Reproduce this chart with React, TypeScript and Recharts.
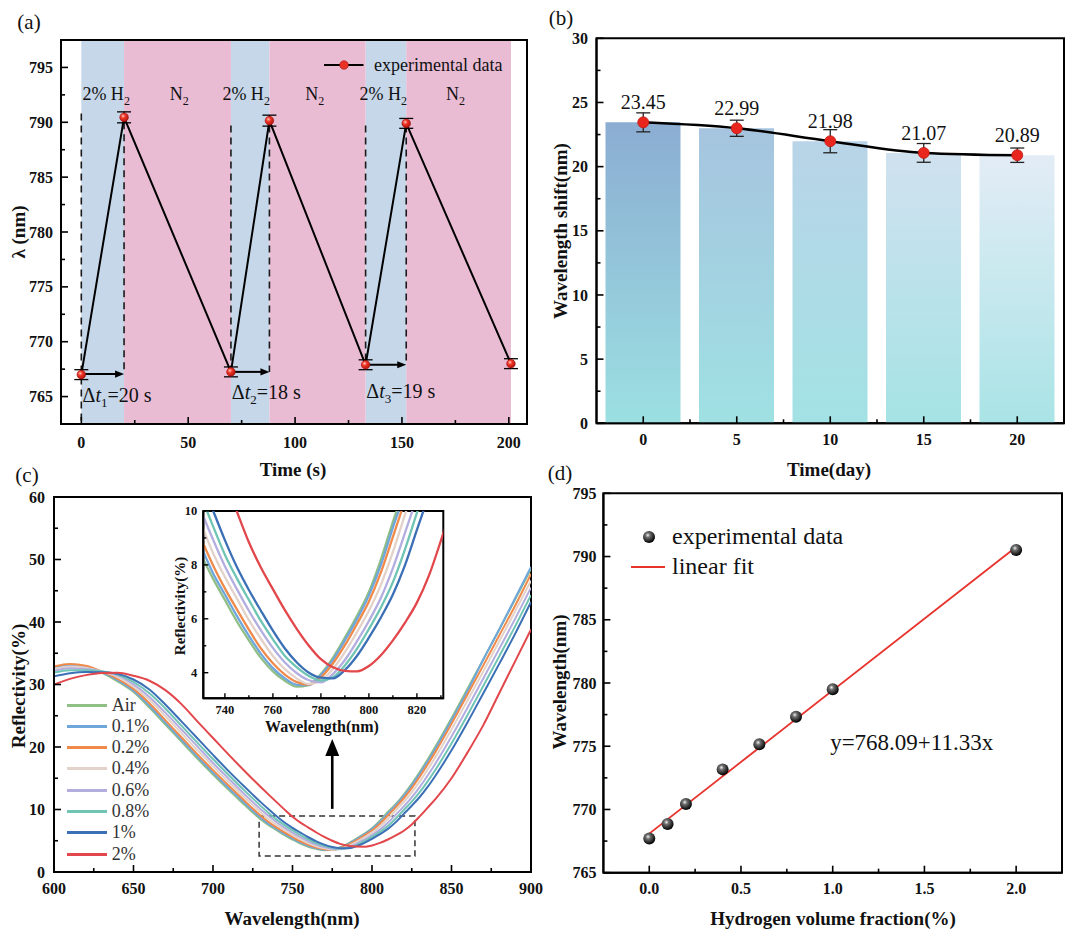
import React from 'react';
import {
  ComposedChart, LineChart, Line, Bar, Cell, XAxis, YAxis, ReferenceArea, ReferenceLine,
  ReferenceDot, ErrorBar, LabelList, Scatter, Legend,
} from 'recharts';

const FONT = "'Liberation Serif', 'Times New Roman', Times, serif";
const INK = '#111111';

/* ---------------- (a) data ---------------- */
const aTime = [0, 20, 70, 88, 133, 152, 201];
const aLambda = [767.0, 790.45, 767.25, 790.15, 767.9, 789.9, 768.0];
const aErr = [0.45, 0.5, 0.45, 0.5, 0.45, 0.45, 0.45];
const aH2Start = [0, 70, 133];
const aH2End = [20, 88, 152];
const aN2End = [70, 133, 201];
const aDashX = [0, 20, 70, 88, 133, 152];
const aDashTop = [790.8, 790.0, 789.7, 789.7, 789.7, 789.7];
const aDashBottom = [762.5, 767.05, 767.25, 767.25, 767.9, 767.9];
const aArrowY = [767.05, 767.25, 767.9];
const aDeltaSub = ['1', '2', '3'];
const aDeltaVal = ['20', '18', '19'];
const aDeltaX = [0.6, 70.4, 133.3];
const aDeltaY = [765.1, 765.4, 765.55];
const aH2X = [0.5, 66, 130.2];
const aN2X = [41.4, 104.8, 170.6];
const aGasY = 792.6;
const aXDomain = [-9.5, 208.5];
const aYDomain = [762.5, 797.5];
const aXTicks = [0, 25, 50, 75, 100, 125, 150, 175, 200];
const aXMajor = [0, 50, 100, 150, 200];
const aYTicks = [765, 767.5, 770, 772.5, 775, 777.5, 780, 782.5, 785, 787.5, 790, 792.5, 795];
const aYMajor = [765, 770, 775, 780, 785, 790, 795];

/* ---------------- (b) data ---------------- */
const bDays = [0, 5, 10, 15, 20];
const bShift = [23.45, 22.99, 21.98, 21.07, 20.89];
const bErr = [0.74, 0.63, 0.9, 0.73, 0.56];
const bYTicks = [0, 2.5, 5, 7.5, 10, 12.5, 15, 17.5, 20, 22.5, 25, 27.5, 30];
const bYMajor = [0, 5, 10, 15, 20, 25, 30];
const bTopColors = ['#8badd2', '#a6c4df', '#b9d4e8', '#d0e1ef', '#e3ecf6'];
const bBottomColors = ['#9ce0e2', '#9fe1e3', '#a2e2e4', '#a5e3e5', '#a9e4e6'];

/* ---------------- (c) data ---------------- */
const cWl = [600, 610, 620, 630, 640, 650, 660, 670, 680, 690, 700, 710, 720, 725, 730, 735, 740, 745, 750, 755,
  760, 765, 770, 775, 780, 785, 790, 795, 800, 805, 810, 815, 820, 825, 830, 835, 840, 850, 860, 870, 880, 890, 900];
const cAir = [32.8, 33.2, 32.9, 31.9, 30.5, 28.8, 26.3, 23.6, 20.9, 18.2, 15.6, 13.1, 10.7, 9.5, 8.4, 7.5, 6.7, 5.9, 5.2, 4.55,
  4.05, 3.7, 3.48, 3.55, 3.95, 4.55, 5.3, 6.1, 7.0, 8.2, 9.6, 10.9, 12.4, 14.1, 16.0, 18.0, 20.1, 24.6, 29.3, 34.0, 38.8, 43.6, 48.5];
const cP01 = [32.6, 33.1, 32.9, 32.0, 30.7, 29.0, 26.6, 23.9, 21.2, 18.5, 15.9, 13.4, 11.0, 9.8, 8.7, 7.7, 6.9, 6.1, 5.37, 4.7,
  4.17, 3.79, 3.55, 3.54, 3.91, 4.47, 5.2, 5.98, 6.87, 8.0, 9.38, 10.69, 12.16, 13.83, 15.7, 17.68, 19.76, 24.24, 28.92, 34.0, 38.8, 43.8, 48.8];
const cP02 = [32.9, 33.3, 33.0, 32.1, 30.9, 29.3, 27.0, 24.3, 21.6, 18.9, 16.3, 13.8, 11.35, 10.15, 9.0, 8.0, 7.13, 6.35, 5.6, 4.9,
  4.35, 3.93, 3.65, 3.56, 3.83, 4.34, 5.02, 5.8, 6.64, 7.72, 9.04, 10.38, 11.8, 13.42, 15.24, 17.2, 19.26, 23.7, 28.36, 33.06, 37.84, 42.6, 47.7];
const cP04 = [32.5, 32.9, 32.7, 32.1, 31.2, 29.65, 27.55, 24.95, 22.25, 19.55, 16.9, 14.35, 11.9, 10.7, 9.55, 8.45, 7.55, 6.75, 5.95, 5.26,
  4.62, 4.13, 3.78, 3.58, 3.71, 4.14, 4.76, 5.5, 6.3, 7.26, 8.48, 9.86, 11.2, 12.74, 14.48, 16.4, 18.42, 22.8, 27.42, 32.1, 36.9, 41.7, 46.6];
const cP06 = [32.2, 32.6, 32.5, 32.1, 31.45, 30.02, 28.0, 25.5, 22.85, 20.15, 17.45, 14.9, 12.4, 11.2, 10.03, 8.95, 7.95, 7.1, 6.3, 5.57,
  4.92, 4.38, 3.98, 3.72, 3.64, 3.95, 4.47, 5.16, 5.92, 6.78, 7.88, 9.18, 10.51, 11.95, 13.59, 15.43, 17.4, 21.68, 26.25, 30.95, 35.7, 40.5, 45.5];
const cP08 = [31.9, 32.3, 32.3, 32.1, 31.6, 30.4, 28.6, 26.17, 23.45, 20.75, 18.07, 15.48, 12.98, 11.78, 10.58, 9.45, 8.38, 7.5, 6.7, 5.92,
  5.24, 4.62, 4.2, 3.88, 3.71, 3.83, 4.27, 4.88, 5.62, 6.42, 7.36, 8.57, 9.93, 11.25, 12.77, 14.5, 16.4, 20.55, 25.07, 29.77, 34.5, 39.3, 44.3];
const cP1 = [31.3, 31.8, 32.0, 31.95, 31.7, 30.8, 29.2, 26.8, 24.14, 21.44, 18.74, 16.1, 13.6, 12.38, 11.18, 10.03, 8.92, 7.92, 7.07, 6.3,
  5.56, 4.9, 4.38, 4.0, 3.82, 3.79, 4.1, 4.62, 5.3, 6.05, 6.9, 7.98, 9.3, 10.6, 12.0, 13.62, 15.45, 19.47, 23.92, 28.6, 33.3, 38.1, 43.2];
const cP2 = [30.0, 30.9, 31.5, 31.85, 31.9, 31.4, 30.6, 29.1, 26.9, 24.14, 21.44, 18.74, 16.12, 14.85, 13.6, 12.38, 11.18, 9.98, 8.84, 7.9,
  7.1, 6.32, 5.62, 5.0, 4.5, 4.2, 4.07, 4.05, 4.25, 4.65, 5.2, 5.85, 6.6, 7.6, 8.9, 10.3, 11.7, 15.0, 19.1, 23.5, 28.6, 33.7, 38.8];
const cNames = ['Air', '0.1%', '0.2%', '0.4%', '0.6%', '0.8%', '1%', '2%'];
const cKeys = ['air', 'p01', 'p02', 'p04', 'p06', 'p08', 'p1', 'p2'];
const cSeries = [cAir, cP01, cP02, cP04, cP06, cP08, cP1, cP2];
const cColors = ['#8fbf84', '#6fa6dc', '#ef8a4a', '#e3d2c9', '#b3ade0', '#6fc4b4', '#3b6fb6', '#e2474b'];
const cXTicks = [600, 625, 650, 675, 700, 725, 750, 775, 800, 825, 850, 875, 900];
const cXMajor = [600, 650, 700, 750, 800, 850, 900];
const cYTicks = [0, 5, 10, 15, 20, 25, 30, 35, 40, 45, 50, 55, 60];
const cYMajor = [0, 10, 20, 30, 40, 50, 60];
const cBox = { x1: 729, x2: 827, y1: 2.55, y2: 8.95 };
const cArrowX = 775;
const cArrowFrom = 10.1;
const cArrowTo = 21.3;
const iXDomain = [731, 831];
const iYDomain = [3.05, 10];
const iXTicks = [740, 750, 760, 770, 780, 790, 800, 810, 820, 830];
const iXMajor = [740, 760, 780, 800, 820];
const iYTicks = [4, 5, 6, 7, 8, 9, 10];
const iYMajor = [4, 6, 8, 10];

/* ---------------- (d) data ---------------- */
const dFrac = [0, 0.1, 0.2, 0.4, 0.6, 0.8, 1.0, 2.0];
const dWl = [767.7, 768.85, 770.43, 773.17, 775.15, 777.34, 779.5, 790.52];
const dFitX = [0, 2.0];
const dFitY = [768.09, 790.75];
const dEq = 'y=768.09+11.33x';
const dEqX = 0.986;
const dEqY = 775.36;
const dXDomain = [-0.25, 2.25];
const dYDomain = [765, 795];
const dXTicks = [0, 0.25, 0.5, 0.75, 1.0, 1.25, 1.5, 1.75, 2.0];
const dXMajor = [0, 0.5, 1.0, 1.5, 2.0];
const dYTicks = [765, 767.5, 770, 772.5, 775, 777.5, 780, 782.5, 785, 787.5, 790, 792.5, 795];
const dYMajor = [765, 770, 775, 780, 785, 790, 795];

/* ---------------- helpers ---------------- */
const hasVal = (arr: number[], v: number) => arr.some((m) => Math.abs(m - v) < 1e-6);

type TickCfg = {
  major: number[]; fs: number; len: number; minor: number; gap: number;
  fmt?: (v: number) => string; half?: number; count?: number; sw?: number;
};

const bottomTick = (c: TickCfg) => (p: any) => {
  const v = Number(p.payload?.value);
  const mj = hasVal(c.major, v);
  const len = mj ? c.len : c.minor;
  const sw = c.sw ?? 1.6;
  return (
    <g>
      <line x1={p.x} y1={p.y} x2={p.x} y2={p.y - len} stroke="#000" strokeWidth={sw} />
      {c.half && c.count && p.index < c.count - 1 ? (
        <line x1={p.x + c.half} y1={p.y} x2={p.x + c.half} y2={p.y - c.minor} stroke="#000" strokeWidth={sw} />
      ) : null}
      {mj ? (
        <text x={p.x} y={p.y + c.gap} textAnchor="middle" fontFamily={FONT} fontWeight="bold" fontSize={c.fs} fill={INK}>
          {c.fmt ? c.fmt(v) : String(v)}
        </text>
      ) : null}
    </g>
  );
};

const leftTick = (c: TickCfg) => (p: any) => {
  const v = Number(p.payload?.value);
  const mj = hasVal(c.major, v);
  const len = mj ? c.len : c.minor;
  const sw = c.sw ?? 1.6;
  return (
    <g>
      <line x1={p.x} y1={p.y} x2={p.x + len} y2={p.y} stroke="#000" strokeWidth={sw} />
      {mj ? (
        <text x={p.x - c.gap} y={p.y} dy={c.fs * 0.35} textAnchor="end" fontFamily={FONT} fontWeight="bold" fontSize={c.fs} fill={INK}>
          {c.fmt ? c.fmt(v) : String(v)}
        </text>
      ) : null}
    </g>
  );
};

const arrowShape = (head: number, half: number, width: number) => (p: any) => {
  const { x1, y1, x2, y2 } = p;
  if ([x1, y1, x2, y2].some((v) => typeof v !== 'number' || isNaN(v))) return <g />;
  const dx = x2 - x1;
  const dy = y2 - y1;
  const len = Math.hypot(dx, dy) || 1;
  const ux = dx / len;
  const uy = dy / len;
  const bx = x2 - ux * head;
  const by = y2 - uy * head;
  const px = -uy * half;
  const py = ux * half;
  return (
    <g>
      <line x1={x1} y1={y1} x2={bx + ux} y2={by + uy} stroke="#000" strokeWidth={width} />
      <polygon points={`${x2},${y2} ${bx + px},${by + py} ${bx - px},${by - py}`} fill="#000" />
    </g>
  );
};
const arrowA = arrowShape(9, 3.6, 2);
const arrowC = arrowShape(17, 7, 2.6);

const vbPoint = (p: any) => {
  const vb = p.viewBox || {};
  const x = (vb.x ?? p.x ?? 0) + (vb.width ?? 0) / 2;
  const y = (vb.y ?? p.y ?? 0) + (vb.height ?? 0) / 2;
  return { x, y };
};

const GasLabel = (p: any) => {
  const { x, y } = vbPoint(p);
  return (
    <text x={x} y={y} dy={6} fontFamily={FONT} fontSize={18} fill={INK}>
      {p.h2 ? '2% H' : 'N'}
      <tspan dy={5} fontSize={12}>2</tspan>
    </text>
  );
};

const DeltaLabel = (p: any) => {
  const { x, y } = vbPoint(p);
  return (
    <text x={x} y={y} dy={7} fontFamily={FONT} fontSize={20} fill={INK}>
      Δ<tspan fontStyle="italic">t</tspan>
      <tspan dy={5} fontSize={13}>{p.sub}</tspan>
      <tspan dy={-5}>={p.val} s</tspan>
    </text>
  );
};

const EqLabel = (p: any) => {
  const { x, y } = vbPoint(p);
  return (
    <text x={x} y={y} dy={8} fontFamily={FONT} fontSize={23} fill={INK}>{p.text}</text>
  );
};

const Txt = ({ x, y, size, bold, rotate, children }: any) => (
  <div
    style={{
      position: 'absolute', left: x, top: y,
      transform: `translate(-50%, -50%)${rotate ? ' rotate(-90deg)' : ''}`,
      fontFamily: FONT, fontSize: size, fontWeight: bold ? 'bold' : 'normal',
      whiteSpace: 'nowrap', color: INK, lineHeight: 1,
    }}
  >
    {children}
  </div>
);

const axisLine = { stroke: '#000', strokeWidth: 2 };

/* ---------------- (a) ---------------- */
const ALegend = () => (
  <div style={{ display: 'flex', alignItems: 'center', fontFamily: FONT, fontSize: 18, color: INK, height: 22, whiteSpace: 'nowrap' }}>
    <svg width={44} height={22}>
      <line x1={2} x2={41.5} y1={11} y2={11} stroke="#000" strokeWidth={2} />
      <circle cx={22} cy={11} r={4.3} fill="#ea3326" stroke="#a01010" strokeWidth={0.6} />
    </svg>
    <span style={{ marginLeft: 8 }}>experimental data</span>
  </div>
);

function PanelA() {
  const data = aTime.map((t, i) => ({ t, lam: aLambda[i], err: aErr[i] }));
  return (
    <LineChart width={540} height={470} data={data} margin={{ top: 40, right: 13, bottom: 16, left: 11 }}>
      <defs>
        <radialGradient id="aRedBall" cx="38%" cy="35%" r="65%">
          <stop offset="0%" stopColor="#ffc8b8" />
          <stop offset="40%" stopColor="#ee3526" />
          <stop offset="100%" stopColor="#b3170f" />
        </radialGradient>
      </defs>
      {aH2Start.map((s, i) => (
        <ReferenceArea key={`h${i}`} x1={s} x2={aH2End[i]} y1={aYDomain[0]} y2={aYDomain[1]}
          fill="#c6d7e9" fillOpacity={1} stroke="none" ifOverflow="visible" />
      ))}
      {aH2End.map((s, i) => (
        <ReferenceArea key={`n${i}`} x1={s} x2={aN2End[i]} y1={aYDomain[0]} y2={aYDomain[1]}
          fill="#e9bcd4" fillOpacity={1} stroke="none" ifOverflow="visible" />
      ))}
      {aDashX.map((x, i) => (
        <ReferenceLine key={`d${i}`} segment={[{ x, y: aDashTop[i] }, { x, y: aDashBottom[i] }]}
          stroke="#1a1a1a" strokeWidth={1.6} strokeDasharray="7 5" ifOverflow="visible" />
      ))}
      {aH2Start.map((s, i) => (
        <ReferenceLine key={`ar${i}`} segment={[{ x: s, y: aArrowY[i] }, { x: aH2End[i], y: aArrowY[i] }]}
          shape={arrowA} ifOverflow="visible" />
      ))}
      <Line dataKey="lam" type="linear" stroke="#000" strokeWidth={2} isAnimationActive={false}
        dot={{ r: 4.3, fill: 'url(#aRedBall)', stroke: '#a01010', strokeWidth: 0.6 }}>
        <ErrorBar dataKey="err" width={7} stroke="#000" strokeWidth={1.3} />
      </Line>
      {aH2X.map((x, i) => (
        <ReferenceDot key={`g${i}`} x={x} y={aGasY} r={0} fill="none" stroke="none" ifOverflow="visible" label={<GasLabel h2 />} />
      ))}
      {aN2X.map((x, i) => (
        <ReferenceDot key={`nn${i}`} x={x} y={aGasY} r={0} fill="none" stroke="none" ifOverflow="visible" label={<GasLabel />} />
      ))}
      {aDeltaX.map((x, i) => (
        <ReferenceDot key={`dt${i}`} x={x} y={aDeltaY[i]} r={0} fill="none" stroke="none" ifOverflow="visible"
          label={<DeltaLabel sub={aDeltaSub[i]} val={aDeltaVal[i]} />} />
      ))}
      <XAxis dataKey="t" type="number" domain={aXDomain} ticks={aXTicks} interval={0} allowDataOverflow
        tickSize={0} tickMargin={0} tickLine={false} axisLine={axisLine} height={30}
        tick={bottomTick({ major: aXMajor, fs: 16, len: 7, minor: 4, gap: 24 })} />
      <YAxis type="number" domain={aYDomain} ticks={aYTicks} interval={0} allowDataOverflow
        tickSize={0} tickMargin={0} tickLine={false} axisLine={axisLine} width={50}
        tick={leftTick({ major: aYMajor, fs: 16, len: 7, minor: 4, gap: 8 })} />
      <ReferenceArea y1={aYDomain[0]} y2={aYDomain[1]} fill="none" fillOpacity={0} stroke="#000" strokeWidth={2} ifOverflow="visible" />
      <Legend layout="vertical" align="center" verticalAlign="middle" content={() => <ALegend />}
        wrapperStyle={{ left: 322, top: 54, width: 'auto', height: 'auto' }} />
    </LineChart>
  );
}

/* ---------------- (b) ---------------- */
const B_PLOT_W = 540 - 11.5 - 45 - 16;

function PanelB() {
  const data = bDays.map((d, i) => ({ day: d, v: bShift[i], e: bErr[i] }));
  return (
    <ComposedChart width={540} height={470} data={data} margin={{ top: 38.3, right: 16, bottom: 16.7, left: 11.5 }}>
      <defs>
        {bTopColors.map((c, i) => (
          <linearGradient key={i} id={`bGrad${i}`} x1="0" y1="0" x2="0" y2="1">
            <stop offset="0%" stopColor={c} />
            <stop offset="100%" stopColor={bBottomColors[i]} />
          </linearGradient>
        ))}
      </defs>
      <Bar dataKey="v" barSize={75} isAnimationActive={false}>
        {bDays.map((d, i) => <Cell key={d} fill={`url(#bGrad${i})`} />)}
      </Bar>
      <Line dataKey="v" type="monotone" stroke="#000" strokeWidth={2.5} isAnimationActive={false}
        dot={{ r: 5.5, fill: '#e8261d', stroke: '#c21a12', strokeWidth: 0.8 }}>
        <ErrorBar dataKey="e" width={7} stroke="#222" strokeWidth={1.3} />
        <LabelList dataKey="v" content={(p: any) => {
          const x = p.viewBox?.x ?? p.x;
          const y = p.viewBox?.y ?? p.y;
          return (
            <text x={x} y={y - 20} dy={7} textAnchor="middle" fontFamily={FONT} fontSize={20} fill={INK}>
              {Number(p.value).toFixed(2)}
            </text>
          );
        }} />
      </Line>
      <XAxis dataKey="day" type="category" interval={0} tickSize={0} tickMargin={0} tickLine={false} axisLine={axisLine} height={30}
        tick={bottomTick({ major: bDays, fs: 16, len: 7, minor: 4, gap: 22, half: B_PLOT_W / bDays.length / 2, count: bDays.length })} />
      <YAxis type="number" domain={[0, 30]} ticks={bYTicks} interval={0} allowDataOverflow
        tickSize={0} tickMargin={0} tickLine={false} axisLine={axisLine} width={45}
        tick={leftTick({ major: bYMajor, fs: 16, len: 7, minor: 4, gap: 8.5 })} />
      <ReferenceArea y1={0} y2={30} fill="none" fillOpacity={0} stroke="#000" strokeWidth={2} ifOverflow="visible" />
    </ComposedChart>
  );
}

/* ---------------- (c) ---------------- */
const cData = cWl.map((w, i) => {
  const row: any = { wl: w };
  cKeys.forEach((k, j) => { row[k] = cSeries[j][i]; });
  return row;
});

const CLegend = () => (
  <div style={{ fontFamily: FONT, fontSize: 18, color: '#333' }}>
    {cNames.map((n, i) => (
      <div key={n} style={{ display: 'flex', alignItems: 'center', height: 21.3, whiteSpace: 'nowrap' }}>
        <svg width={42} height={21}>
          <line x1={0} x2={40} y1={10.5} y2={10.5} stroke={cColors[i]} strokeWidth={3} />
        </svg>
        <span style={{ marginLeft: 3, lineHeight: '21px' }}>{n}</span>
      </div>
    ))}
  </div>
);

function PanelC() {
  return (
    <LineChart width={540} height={464} data={cData} margin={{ top: 27, right: 9, bottom: 32, left: 4 }}>
      {cKeys.map((k, i) => (
        <Line key={k} dataKey={k} name={cNames[i]} type="monotone" stroke={cColors[i]} strokeWidth={2} dot={false} isAnimationActive={false} />
      ))}
      <ReferenceArea x1={cBox.x1} x2={cBox.x2} y1={cBox.y1} y2={cBox.y2} fill="none" fillOpacity={0}
        stroke="#333" strokeWidth={1.5} strokeDasharray="6 4" ifOverflow="visible" />
      <ReferenceLine segment={[{ x: cArrowX, y: cArrowFrom }, { x: cArrowX, y: cArrowTo }]} shape={arrowC} ifOverflow="visible" />
      <XAxis dataKey="wl" type="number" domain={[600, 900]} ticks={cXTicks} interval={0} allowDataOverflow
        tickSize={0} tickMargin={0} tickLine={false} axisLine={axisLine} height={30}
        tick={bottomTick({ major: cXMajor, fs: 16, len: 7, minor: 4, gap: 22 })} />
      <YAxis type="number" domain={[0, 60]} ticks={cYTicks} interval={0} allowDataOverflow
        tickSize={0} tickMargin={0} tickLine={false} axisLine={axisLine} width={50}
        tick={leftTick({ major: cYMajor, fs: 16, len: 7, minor: 4, gap: 9 })} />
      <ReferenceArea y1={0} y2={60} fill="none" fillOpacity={0} stroke="#000" strokeWidth={2} ifOverflow="visible" />
      <Legend layout="vertical" align="center" verticalAlign="middle" content={() => <CLegend />}
        wrapperStyle={{ left: 66.7, top: 224.4, width: 'auto', height: 'auto' }} />
    </LineChart>
  );
}

function Inset() {
  return (
    <LineChart width={300} height={235} data={cData} margin={{ top: 11, right: 6.7, bottom: 16.7, left: 13.3 }}>
      <ReferenceArea y1={iYDomain[0]} y2={iYDomain[1]} fill="#fff" fillOpacity={1} stroke="none" ifOverflow="visible" />
      {cKeys.map((k, i) => (
        <Line key={k} dataKey={k} type="monotone" stroke={cColors[i]} strokeWidth={2.3} dot={false} isAnimationActive={false} />
      ))}
      <XAxis dataKey="wl" type="number" domain={iXDomain} ticks={iXTicks} interval={0} allowDataOverflow
        tickSize={0} tickMargin={0} tickLine={false} axisLine={axisLine} height={20}
        tick={bottomTick({ major: iXMajor, fs: 12.5, len: 5, minor: 3, gap: 16, sw: 1.4 })} />
      <YAxis type="number" domain={iYDomain} ticks={iYTicks} interval={0} allowDataOverflow
        tickSize={0} tickMargin={0} tickLine={false} axisLine={axisLine} width={40}
        tick={leftTick({ major: iYMajor, fs: 12.5, len: 5, minor: 3, gap: 6, sw: 1.4 })} />
      <ReferenceArea y1={iYDomain[0]} y2={iYDomain[1]} fill="none" fillOpacity={0} stroke="#000" strokeWidth={2} ifOverflow="visible" />
    </LineChart>
  );
}

/* ---------------- (d) ---------------- */
const DLegend = () => (
  <div style={{ fontFamily: FONT, fontSize: 24, color: INK, whiteSpace: 'nowrap' }}>
    <div style={{ display: 'flex', alignItems: 'center', height: 30 }}>
      <svg width={40} height={30}>
        <defs>
          <radialGradient id="dBallLeg" cx="40%" cy="35%" r="62%">
            <stop offset="0%" stopColor="#f4f4f4" />
            <stop offset="30%" stopColor="#707070" />
            <stop offset="100%" stopColor="#050505" />
          </radialGradient>
        </defs>
        <circle cx={21} cy={15} r={6} fill="url(#dBallLeg)" />
      </svg>
      <span style={{ marginLeft: 4 }}>experimental data</span>
    </div>
    <div style={{ display: 'flex', alignItems: 'center', height: 30 }}>
      <svg width={40} height={30}>
        <line x1={3} x2={37} y1={15} y2={15} stroke="#e8322c" strokeWidth={1.8} />
      </svg>
      <span style={{ marginLeft: 4 }}>linear fit</span>
    </div>
  </div>
);

function PanelD() {
  const pts = dFrac.map((x, i) => ({ x, y: dWl[i] }));
  const fit = dFitX.map((x, i) => ({ x, y: dFitY[i] }));
  return (
    <ComposedChart width={540} height={464} margin={{ top: 23.3, right: 18, bottom: 31.3, left: 13.4 }}>
      <defs>
        <radialGradient id="dBall" cx="40%" cy="35%" r="62%">
          <stop offset="0%" stopColor="#f4f4f4" />
          <stop offset="30%" stopColor="#707070" />
          <stop offset="100%" stopColor="#050505" />
        </radialGradient>
      </defs>
      <Line data={fit} dataKey="y" type="linear" stroke="#e8322c" strokeWidth={1.8} dot={false} isAnimationActive={false} />
      <Scatter data={pts} dataKey="y" isAnimationActive={false}
        shape={(p: any) => <circle cx={p.cx} cy={p.cy} r={6} fill="url(#dBall)" />} />
      <ReferenceDot x={dEqX} y={dEqY} r={0} fill="none" stroke="none" ifOverflow="visible" label={<EqLabel text={dEq} />} />
      <XAxis dataKey="x" type="number" domain={dXDomain} ticks={dXTicks} interval={0} allowDataOverflow
        tickSize={0} tickMargin={0} tickLine={false} axisLine={axisLine} height={30}
        tick={bottomTick({ major: dXMajor, fs: 16, len: 7, minor: 4, gap: 21, fmt: (v) => v.toFixed(1) })} />
      <YAxis dataKey="y" type="number" domain={dYDomain} ticks={dYTicks} interval={0} allowDataOverflow
        tickSize={0} tickMargin={0} tickLine={false} axisLine={axisLine} width={50}
        tick={leftTick({ major: dYMajor, fs: 16, len: 7, minor: 4, gap: 7 })} />
      <ReferenceArea y1={dYDomain[0]} y2={dYDomain[1]} fill="none" fillOpacity={0} stroke="#000" strokeWidth={2} ifOverflow="visible" />
      <Legend layout="vertical" align="center" verticalAlign="middle" content={() => <DLegend />}
        wrapperStyle={{ left: 88, top: 51.7, width: 'auto', height: 'auto' }} />
    </ComposedChart>
  );
}

export default function App() {
  return (
    <div style={{ position: 'absolute', left: 0, top: 0, width: 1080, height: 934, background: '#fff', overflow: 'hidden' }}>
      <style>{'.ovf svg { overflow: visible; }'}</style>
      <div style={{ position: 'absolute', left: 0, top: 0 }}><PanelA /></div>
      <div style={{ position: 'absolute', left: 540, top: 0 }}><PanelB /></div>
      <div style={{ position: 'absolute', left: 540, top: 470 }}><PanelD /></div>
      <div className="ovf" style={{ position: 'absolute', left: 0, top: 470 }}><PanelC /></div>
      <div style={{ position: 'absolute', left: 150, top: 500 }}><Inset /></div>

      <Txt x={29} y={22} size={21}>(a)</Txt>
      <Txt x={561} y={18} size={21}>(b)</Txt>
      <Txt x={27} y={475} size={21}>(c)</Txt>
      <Txt x={560} y={473} size={21}>(d)</Txt>

      <Txt x={18} y={232} size={19} bold rotate>λ (nm)</Txt>
      <Txt x={293} y={469} size={19} bold>Time (s)</Txt>
      <Txt x={560} y={231} size={19} bold rotate>Wavelength shift(nm)</Txt>
      <Txt x={829} y={469} size={19} bold>Time(day)</Txt>
      <Txt x={18} y={686} size={19} bold rotate>Reflectivity(%)</Txt>
      <Txt x={292} y={918} size={19} bold>Wavelength(nm)</Txt>
      <Txt x={180} y={606} size={15} bold rotate>Reflectivity(%)</Txt>
      <Txt x={322} y={727} size={16} bold>Wavelength(nm)</Txt>
      <Txt x={559} y={682} size={19} bold rotate>Wavelength(nm)</Txt>
      <Txt x={833} y={918} size={19} bold>Hydrogen volume fraction(%)</Txt>
    </div>
  );
}
